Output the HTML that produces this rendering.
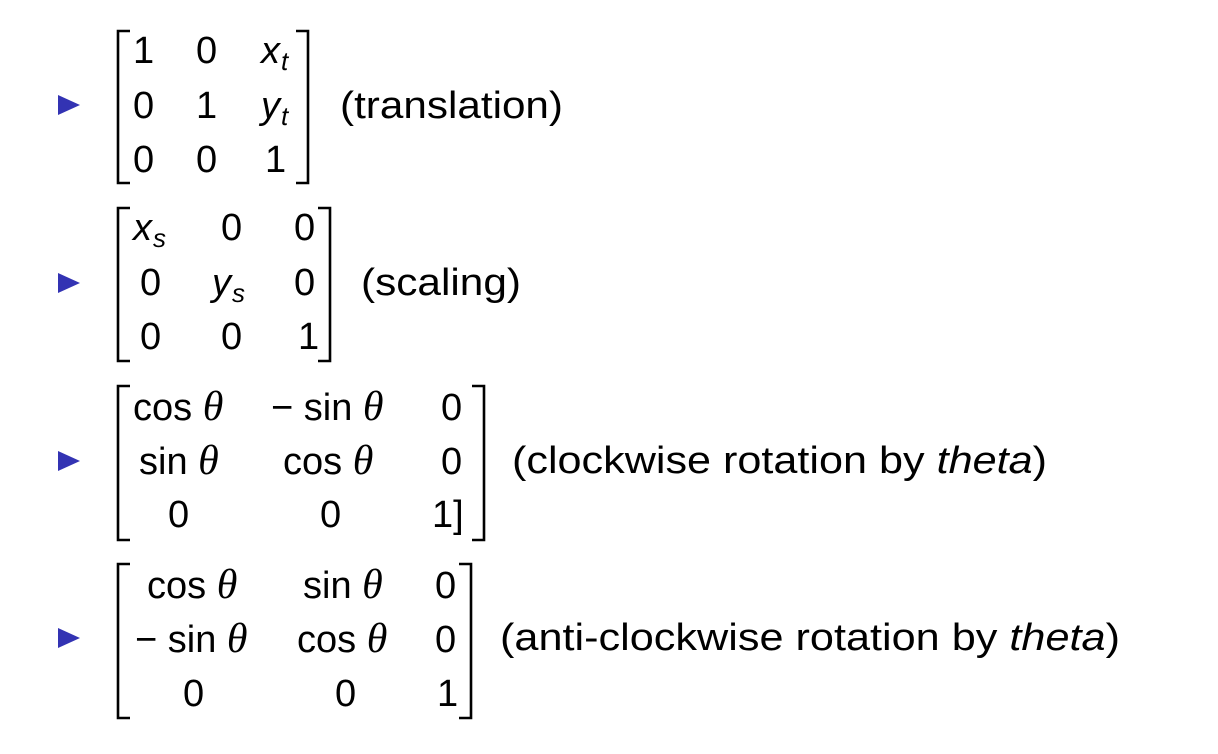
<!DOCTYPE html>
<html><head><meta charset="utf-8"><style>
html,body{margin:0;padding:0;background:#fff}
svg{display:block}
text{font-family:"Liberation Sans",sans-serif;font-size:38px;fill:#000}
.i{font-style:italic}
.t{font-family:"Liberation Serif",serif;font-style:italic;font-size:42px}
.s{font-size:26px;font-style:italic}
</style></head><body>
<svg width="1218" height="754" viewBox="0 0 1218 754">
<g fill="#3333b3">
<polygon points="58,95 80,105 58,115"/>
<polygon points="58,273 80,283 58,293"/>
<polygon points="58,451 80,461 58,471"/>
<polygon points="58,628 80,638 58,648"/>
</g>
<g fill="none" stroke="#000" stroke-width="2.6">
<path d="M130,31 H118 V183 H130"/><path d="M296,31 H308 V183 H296"/>
<path d="M130,208 H118 V361 H130"/><path d="M318,208 H330 V361 H318"/>
<path d="M130,386 H118 V540 H130"/><path d="M472,386 H484 V540 H472"/>
<path d="M130,564 H118 V718 H130"/><path d="M459,564 H471 V718 H459"/>
</g>
<text x="133" y="63">1</text><text x="196" y="63">0</text>
<text x="261" y="63" class="i">x</text><text x="281" y="70" class="s">t</text>
<text x="133" y="118">0</text><text x="196" y="118">1</text>
<text x="261" y="118" class="i">y</text><text x="281" y="125" class="s">t</text>
<text x="133" y="172">0</text><text x="196" y="172">0</text><text x="265" y="172">1</text>
<text x="340" y="118" textLength="223" lengthAdjust="spacingAndGlyphs">(translation)</text>
<text x="133" y="240" class="i">x</text><text x="153" y="247" class="s">s</text>
<text x="221" y="240">0</text><text x="294" y="240">0</text>
<text x="140" y="295">0</text>
<text x="212" y="295" class="i">y</text><text x="232" y="302" class="s">s</text>
<text x="294" y="295">0</text>
<text x="140" y="349">0</text><text x="221" y="349">0</text><text x="298" y="349">1</text>
<text x="361" y="295" textLength="160" lengthAdjust="spacingAndGlyphs">(scaling)</text>
<text x="133" y="420">cos <tspan class="t">θ</tspan></text>
<text x="271" y="420">− sin <tspan class="t">θ</tspan></text>
<text x="441" y="420">0</text>
<text x="139" y="474">sin <tspan class="t">θ</tspan></text>
<text x="283" y="474">cos <tspan class="t">θ</tspan></text>
<text x="441" y="474">0</text>
<text x="168" y="527">0</text><text x="320" y="527">0</text><text x="432" y="527">1]</text>
<text x="512" y="473" textLength="535" lengthAdjust="spacingAndGlyphs">(clockwise rotation by <tspan class="i">theta</tspan>)</text>
<text x="147" y="598">cos <tspan class="t">θ</tspan></text>
<text x="303" y="598">sin <tspan class="t">θ</tspan></text>
<text x="435" y="598">0</text>
<text x="135" y="652">− sin <tspan class="t">θ</tspan></text>
<text x="297" y="652">cos <tspan class="t">θ</tspan></text>
<text x="435" y="652">0</text>
<text x="183" y="706">0</text><text x="335" y="706">0</text><text x="437" y="706">1</text>
<text x="500" y="650" textLength="620" lengthAdjust="spacingAndGlyphs">(anti-clockwise rotation by <tspan class="i">theta</tspan>)</text>
</svg>
</body></html>
